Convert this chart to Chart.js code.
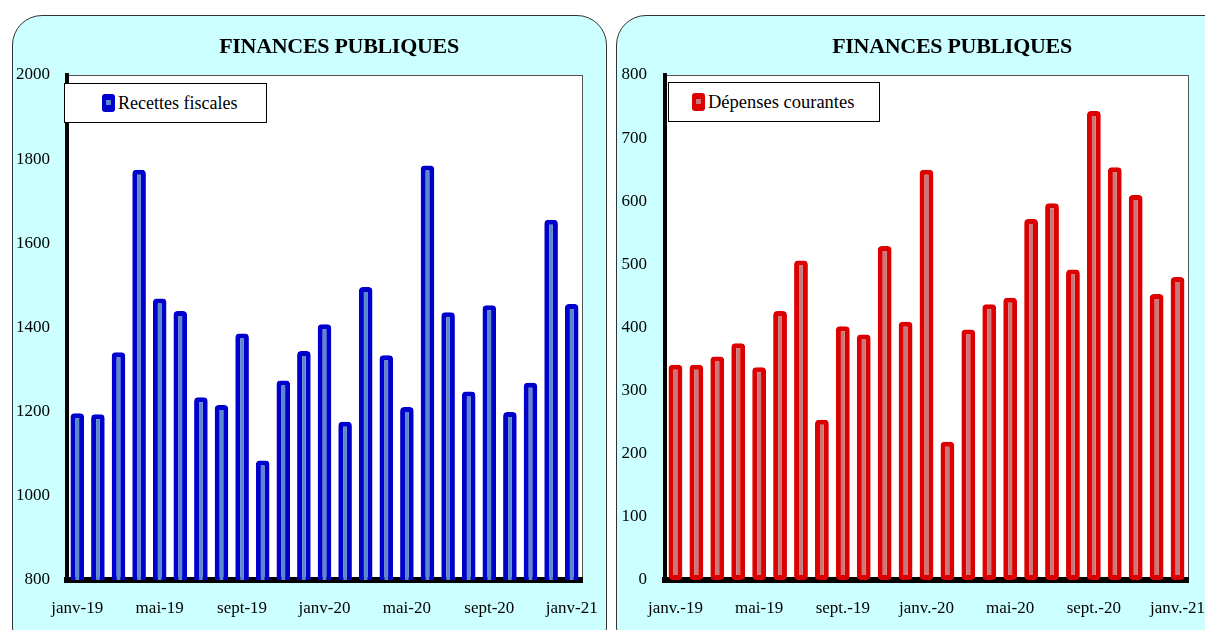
<!DOCTYPE html>
<html lang="fr">
<head>
  <title>Finances publiques</title>
  <meta charset="utf-8">
  <script src="https://cdn.jsdelivr.net/npm/chart.js@4/dist/chart.umd.min.js"></script>
  <style>
    body { margin: 0; background: #fff; width: 1205px; height: 630px; overflow: hidden; position: relative; }
    .panel { position: absolute; top: 15px; height: 640px; background: #ccffff; border: 1px solid #333; border-radius: 30px; }
    #panelL { left: 12px; width: 593px; }
    #panelR { left: 616px; width: 620px; }
    .wrap { position: absolute; top: 0; height: 630px; }
    #wrapL { left: 0; width: 607px; }
    #wrapR { left: 607px; width: 598px; }
    .title { position: absolute; top: 33px; font-family: "Liberation Serif", serif; font-size: 22px; font-weight: bold; color: #000; text-align: center; letter-spacing: -0.3px; }
    #titleL { left: 189px; width: 300px; }
    #titleR { left: 802px; width: 300px; }
    .legend { position: absolute; background: #fff; border: 1px solid #000; font-family: "Liberation Serif", serif; font-size: 18px; color: #000; display: flex; align-items: center; box-sizing: border-box; }
    .legend .sw { width: 13px; height: 18px; border-radius: 3px; margin-right: 3px; position: relative; box-sizing: border-box; }
    .legend .sw i { position: absolute; left: 4px; top: 6px; width: 5px; height: 5px; }
    #legL { left: 64px; top: 83px; width: 203px; height: 40px; padding-left: 37px; }
    #legR { left: 668px; top: 82px; width: 212px; height: 40px; padding-left: 23px; font-size: 18.5px; }
  </style>
</head>
<body>

<div class="panel" id="panelL"></div>
<div class="panel" id="panelR"></div>
<div class="wrap" id="wrapL"><canvas id="chartL"></canvas></div>
<div class="wrap" id="wrapR"><canvas id="chartR"></canvas></div>

<div class="title" id="titleL">FINANCES PUBLIQUES</div>
<div class="title" id="titleR">FINANCES PUBLIQUES</div>
<div class="legend" id="legL"><span class="sw" style="background:#0000cc"><i style="background:#5b88c8"></i></span>Recettes fiscales</div>
<div class="legend" id="legR"><span class="sw" style="background:#dd0000"><i style="background:#c87878"></i></span>Dépenses courantes</div>

<script>
  // months, janv 2019 -> janv 2021
  const monthsL = ["janv-19", "févr-19", "mars-19", "avr-19", "mai-19", "juin-19", "juil-19", "août-19",
    "sept-19", "oct-19", "nov-19", "déc-19", "janv-20", "févr-20", "mars-20", "avr-20", "mai-20",
    "juin-20", "juil-20", "août-20", "sept-20", "oct-20", "nov-20", "déc-20", "janv-21"]
  const monthsR = ["janv.-19", "févr.-19", "mars-19", "avr.-19", "mai-19", "juin-19", "juil.-19", "août-19",
    "sept.-19", "oct.-19", "nov.-19", "déc.-19", "janv.-20", "févr.-20", "mars-20", "avr.-20", "mai-20",
    "juin-20", "juil.-20", "août-20", "sept.-20", "oct.-20", "nov.-20", "déc.-20", "janv.-21"]

  const recettes = [1196, 1194, 1341, 1775, 1469, 1439, 1234, 1216, 1386, 1084, 1274, 1344, 1408,
    1176, 1496, 1334, 1211, 1785, 1436, 1248, 1453, 1199, 1269, 1656, 1456]
  const depenses = [341, 341, 354, 375, 337, 426, 506, 254, 402, 389, 529, 409, 650,
    219, 397, 437, 447, 572, 597, 492, 743, 654, 610, 453, 480]

  const serif = "'Liberation Serif', serif"

  // white plot area with thin grey frame
  const plotFrame = {
    id: 'plotFrame',
    beforeDraw(chart) {
      const a = chart.chartArea, ctx = chart.ctx
      ctx.save()
      ctx.fillStyle = '#fff'
      ctx.fillRect(a.left, a.top, a.right - a.left, a.bottom - a.top)
      ctx.strokeStyle = '#555'
      ctx.lineWidth = 1
      ctx.strokeRect(a.left + 0.5, a.top + 0.5, a.right - a.left, a.bottom - a.top)
      ctx.restore()
    }
  }

  function makeChart(id, labels, values, yMin, yMax, yStep, border, fill, yWidth, padRight, tickPad) {
    return new Chart(id, {
      type: 'bar',
      data: {
        labels: labels,
        datasets: [{
          data: values,
          backgroundColor: fill,
          borderColor: border,
          borderWidth: 5,
          borderRadius: 4,
          borderSkipped: false,
          barPercentage: 0.66,
          categoryPercentage: 1
        }]
      },
      options: {
        responsive: true,
        maintainAspectRatio: false,
        animation: false,
        layout: { padding: { left: 0, right: padRight, top: 75, bottom: 0 } },
        plugins: {
          legend: { display: false },
          tooltip: { enabled: false }
        },
        scales: {
          x: {
            offset: true,
            grid: { display: false, drawTicks: false },
            border: { display: true, color: '#000', width: 6 },
            afterFit(s) {
              s.height = 50
              s.paddingLeft = 0
              s.paddingRight = 0
            },
            ticks: {
              autoSkip: false,
              maxRotation: 0,
              padding: 18,
              color: '#000',
              font: { family: serif, size: 17 },
              callback(v, i) { return i % 4 === 0 ? this.getLabelForValue(v) : '' }
            }
          },
          y: {
            min: yMin,
            max: yMax,
            grid: { display: false, drawTicks: false },
            border: { display: true, color: '#000', width: 4 },
            afterFit(s) {
              s.width = yWidth
              s.paddingTop = 0
              s.paddingBottom = 0
            },
            ticks: {
              stepSize: yStep,
              padding: tickPad,
              color: '#000',
              font: { family: serif, size: 17 },
              callback(v) { return String(v) }
            }
          }
        }
      },
      plugins: [plotFrame]
    })
  }

  makeChart('chartL', monthsL, recettes, 800, 2000, 200, '#0000cc', '#5b88c8', 67, 25, 17)
  makeChart('chartR', monthsR, depenses, 0, 800, 100, '#dd0000', '#c87878', 58, 17, 18)
</script>
</body>
</html>
